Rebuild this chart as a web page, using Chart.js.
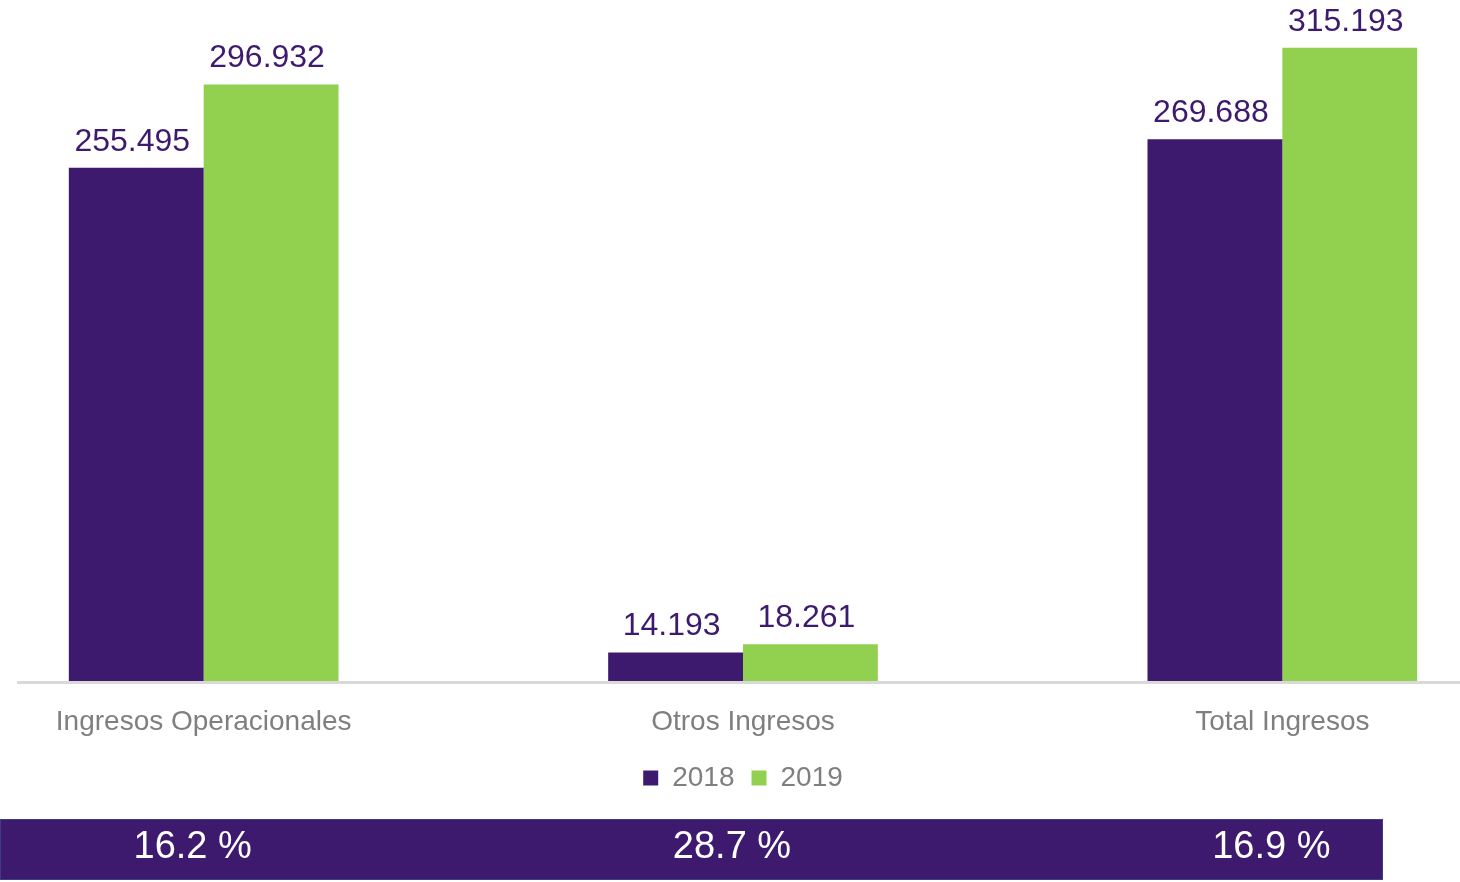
<!DOCTYPE html>
<html lang="es">
<head>
<meta charset="utf-8">
<script src="https://cdn.jsdelivr.net/npm/chart.js@4"></script>
<style>
  html, body { margin: 0; padding: 0; background: #fff; overflow: hidden; }
  #wrap { position: absolute; left: -66px; top: 0; width: 1618px; height: 882px; }
</style>
</head>
<body>
<div id="wrap"><canvas id="grafico"></canvas></div>
<script>
const categorias = ["Ingresos Operacionales", "Otros Ingresos", "Total Ingresos"];
const valores2018 = [255495, 14193, 269688];
const valores2019 = [296932, 18261, 315193];
const variaciones = ["16.2 %", "28.7 %", "16.9 %"];

const morado = "#3d1a6e";
const verde = "#92d050";
const fuente = "'Liberation Sans', Arial, sans-serif";

const formatear = v => String(v).replace(/\B(?=(\d{3})+(?!\d))/g, ".");

// etiquetas de valor, linea base y franja de variaciones
const extras = {
  id: "extras",
  afterDatasetsDraw(chart) {
    const ctx = chart.ctx;
    ctx.save();
    ctx.font = "32px " + fuente;
    ctx.fillStyle = morado;
    ctx.textAlign = "center";
    ctx.textBaseline = "bottom";
    chart.data.datasets.forEach((ds, i) => {
      chart.getDatasetMeta(i).data.forEach((bar, j) => {
        ctx.fillText(formatear(ds.data[j]), bar.x - 4, bar.y - 10);
      });
    });

    const y0 = chart.scales.y.getPixelForValue(0);
    ctx.fillStyle = "#d9d9d9";
    ctx.fillRect(83, y0, 1443, 3);

    ctx.fillStyle = morado;
    ctx.fillRect(66, 819, 1383, 61);
    ctx.strokeStyle = "#3b3f80";
    ctx.lineWidth = 1;
    ctx.strokeRect(66.5, 819.5, 1382, 60);
    ctx.fillStyle = "#ffffff";
    ctx.font = "38px " + fuente;
    ctx.textBaseline = "middle";
    variaciones.forEach((t, j) => {
      const x = chart.scales.x.getPixelForValue(j) - 11;
      ctx.fillText(t, x, 848);
    });
    ctx.restore();
  }
};

new Chart(document.getElementById("grafico").getContext("2d"), {
  type: "bar",
  data: {
    labels: categorias,
    datasets: [
      { label: "2018", data: valores2018, backgroundColor: morado },
      { label: "2019", data: valores2019, backgroundColor: verde }
    ]
  },
  options: {
    responsive: true,
    maintainAspectRatio: false,
    animation: false,
    categoryPercentage: 0.5,
    barPercentage: 1.0,
    layout: { padding: { top: 8, bottom: 80, left: 0, right: 0 } },
    plugins: {
      legend: {
        position: "bottom",
        labels: {
          boxWidth: 15,
          boxHeight: 15,
          padding: 17,
          color: "#7f7f7f",
          font: { family: fuente, size: 28 }
        }
      },
      tooltip: { enabled: false }
    },
    scales: {
      x: {
        grid: { display: false, drawTicks: false },
        border: { display: false },
        ticks: {
          color: "#7f7f7f",
          padding: 24,
          font: { family: fuente, size: 28 }
        },
        afterFit: scale => { scale.height = 66; }
      },
      y: {
        display: false,
        min: 0,
        max: 335000
      }
    }
  },
  plugins: [extras]
});
</script>
</body>
</html>
